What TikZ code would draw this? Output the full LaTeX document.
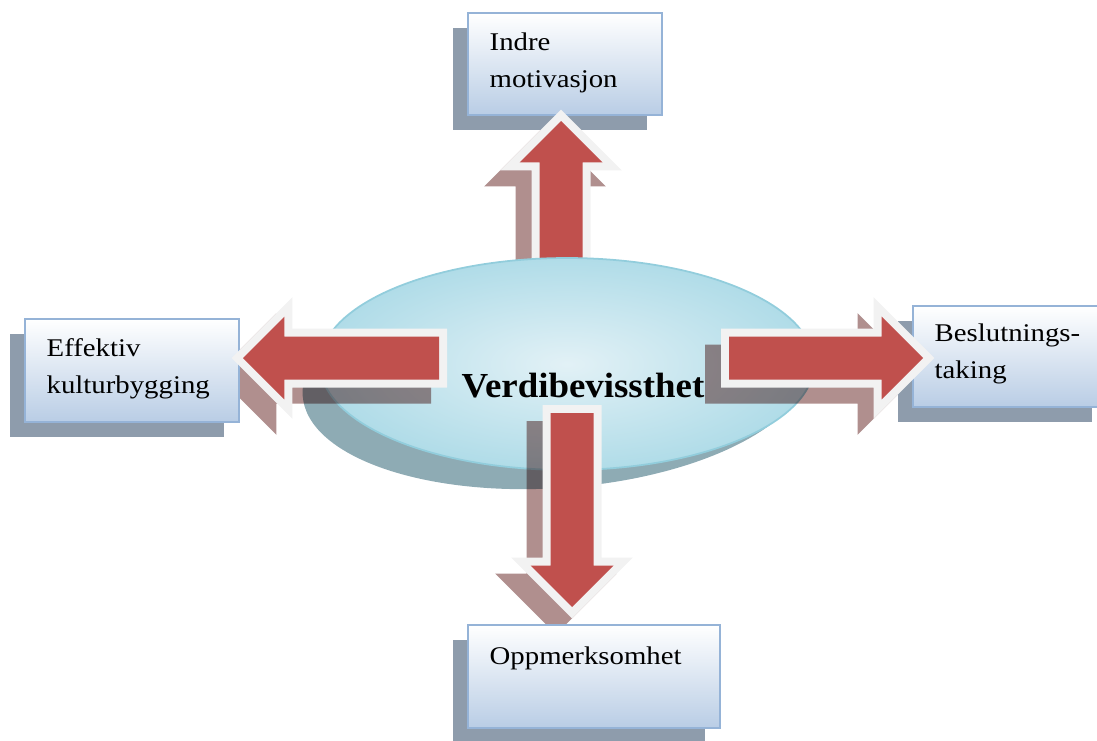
\documentclass[tikz,border=0pt]{standalone}
\usepackage{fontspec}
\setmainfont{Liberation Serif}
\newfontfamily\boxfont{Liberation Serif}[FakeStretch=1.13]
\newfontfamily\corefont{Liberation Serif}[FakeStretch=1.05]
\usepackage{tikz}
\usetikzlibrary{calc, shapes.geometric, shadows}
\definecolor{arrred}{RGB}{192,80,77}
\definecolor{arrrim}{RGB}{242,242,242}
\definecolor{arrshade}{RGB}{176,143,142}
\definecolor{boxline}{RGB}{149,179,215}
\definecolor{boxbot}{RGB}{185,205,229}
\definecolor{boxshade}{RGB}{142,156,172}
\definecolor{coreline}{RGB}{146,205,220}
\definecolor{coreinner}{RGB}{226,241,246}
\definecolor{coreouter}{RGB}{176,220,232}
\definecolor{coreshade}{RGB}{142,171,180}
\newcommand{\arrshaft}{0.43cm}
\newcommand{\arrhead}{0.83cm}
\newcommand{\rimshaft}{0.59cm}
\newcommand{\rimhead}{1.216cm}
% block arrow: style, tail, tip, half shaft, half head (= head length)
\newcommand{\blockarrow}[5]{%
  \coordinate (hb) at ($(#3)!#5!(#2)$);
  \fill[#1] ($(#2)!#4!90:(#3)$) -- ($(hb)!#4!90:(#3)$)
    -- ($(hb)!#5!90:(#3)$) -- (#3) -- ($(hb)!#5!-90:(#3)$)
    -- ($(hb)!#4!-90:(#3)$) -- ($(#2)!#4!-90:(#3)$) -- cycle;}

\begin{document}
\begin{tikzpicture}[
  x=0.02cm, y=-0.02cm,
  box/.style={draw=boxline, line width=0.8pt, top color=white, bottom color=boxbot,
              inner sep=0pt,
              general shadow={fill=boxshade, shadow xshift=-0.3cm, shadow yshift=-0.3cm}},
  boxtext/.style={font=\boxfont\fontsize{14.5}{21}\selectfont, align=left,
                  inner sep=0pt, anchor=base west},
  core/.style={ellipse, draw=coreline, line width=1pt, inner color=coreinner,
               outer color=coreouter, minimum width=9.88cm, minimum height=4.24cm,
               inner sep=0pt},
  arrbody/.style={fill=arrred},
  arrrimst/.style={fill=arrrim},
  arrshadow/.style={fill=arrshade, blend mode=multiply}
]
\useasboundingbox (0,0) rectangle (1097,740);
% arrow ends
\coordinate (upT) at (561,268);   \coordinate (upH) at (561,121);
\coordinate (lfT) at (439,358);   \coordinate (lfH) at (243,358);
\coordinate (rtT) at (729,358);   \coordinate (rtH) at (923,358);
\coordinate (dnT) at (572,413);   \coordinate (dnH) at (572,607);
\foreach \a in {up,lf,rt,dn}{
  \coordinate (\a To) at ($(\a T)!-0.16cm!(\a H)$);
  \coordinate (\a Ho) at ($(\a H)!-0.226cm!(\a T)$);
  \coordinate (\a Ts) at ($(\a To)+(-16,16)$);
  \coordinate (\a Hs) at ($(\a Ho)+(-16,16)$);
}
% top arrow sits behind the ellipse
\blockarrow{arrshadow}{upTs}{upHs}{\rimshaft}{\rimhead}
\node[box, minimum width=3.88cm, minimum height=2.04cm] (topBox) at (565,64) {};
\blockarrow{arrrimst}{upTo}{upHo}{\rimshaft}{\rimhead}
\blockarrow{arrbody}{upT}{upH}{\arrshaft}{\arrhead}
% centre
\fill[coreshade, rotate around={4:(556,378)}] (556,378) ellipse [x radius=5.08cm, y radius=2.2cm];
\node[core] (core) at (567,364) {};
\foreach \a in {lf,rt,dn}
  \blockarrow{arrshadow}{\a Ts}{\a Hs}{\rimshaft}{\rimhead};
\node[box, minimum width=4.28cm, minimum height=2.06cm] (leftBox) at (132,370.5) {};
\node[box, minimum width=3.88cm, minimum height=2.02cm] (rightBox) at (1010,356.5) {};
\node[box, minimum width=5.04cm, minimum height=2.06cm] (botBox) at (594,676.5) {};
\foreach \a in {lf,rt,dn}{
  \blockarrow{arrrimst}{\a To}{\a Ho}{\rimshaft}{\rimhead}
  \blockarrow{arrbody}{\a T}{\a H}{\arrshaft}{\arrhead}
}
% texts
\node[boxtext] (topTxt) at ($(topBox.north west)+(22,75)$) {Indre\\motivasjon};
\node[boxtext] (leftTxt) at ($(leftBox.north west)+(22,75)$) {Effektiv\\kulturbygging};
\node[boxtext] (rightTxt) at ($(rightBox.north west)+(22,73)$) {Beslutnings-\\taking};
\node[boxtext] (botTxt) at ($(botBox.north west)+(22,40)$) {Oppmerksomhet};
\node[font=\corefont\bfseries\fontsize{20}{24}\selectfont, anchor=base, inner sep=0pt]
  (coreTxt) at (583,397) {Verdibevissthet};
\end{tikzpicture}
\end{document}
